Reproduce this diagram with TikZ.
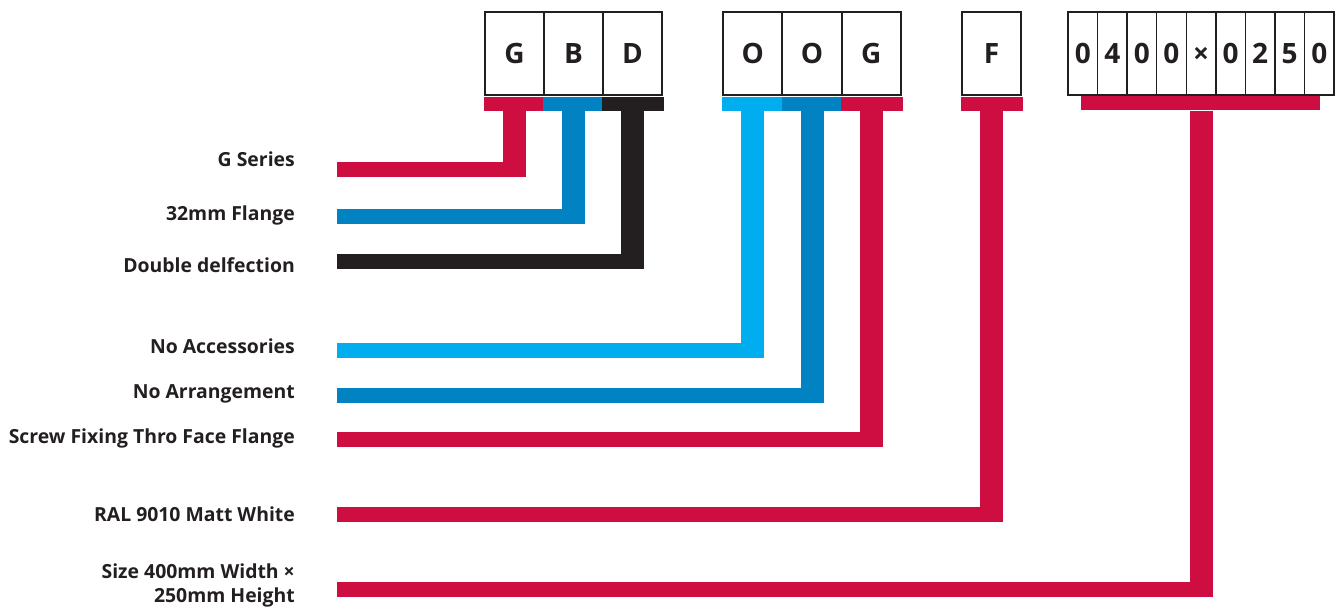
\documentclass[tikz,border=0pt]{standalone}
\usepackage{fontspec}
\setmainfont{Open Sans}
\usetikzlibrary{calc}
\definecolor{codered}{RGB}{206,14,64}
\definecolor{codeblue}{RGB}{0,130,195}
\definecolor{codesky}{RGB}{0,174,239}
\definecolor{codeblack}{RGB}{35,31,32}
\tikzset{
  cell/.style={draw=codeblack, line width=1.5pt, minimum height=83pt, inner sep=0pt,
    text height=20pt, text depth=0pt, text=codeblack,
    font=\fontsize{28}{28}\selectfont\bfseries},
  widecell/.style={cell, minimum width=59pt},
  thincell/.style={cell, minimum width=29.56pt},
  codetext/.style={anchor=base east, inner sep=0pt, text=codeblack,
    font=\fontsize{19.4}{24}\selectfont\bfseries}
}
% bar under a cell, stem down from it, leader across to the start point
\newcommand\codebar[2]{%
  \fill[#2] ($(#1.south west)+(0,1)$) rectangle ($(#1.south east)+(1.5,15)$);}
\newcommand\leadline[3]{%
  \fill[#3] ($(#1.south)+(-11.5,15)$) rectangle ($(#1.south |- #2)+(11.5,7.5)$);
  \fill[#3] ($(#2)+(0,-7.5)$) rectangle ($(#1.south |- #2)+(11.5,7.5)$);}
\begin{document}
\begin{tikzpicture}[x=1pt,y=-1pt]
  \useasboundingbox (0,0) rectangle (1343,607);

  % code cells
  \node[widecell] (cG) at (514.5,53.5) {G};
  \node[widecell] (cB) at (573.5,53.5) {B};
  \node[widecell] (cD) at (632.5,53.5) {D};
  \node[widecell] (cO1) at (752.7,53.5) {O};
  \node[widecell] (cO2) at (812,53.5) {O};
  \node[widecell] (cG2) at (871.3,53.5) {G};
  \node[widecell] (cF) at (991.5,53.5) {F};
  \foreach \ch [count=\i from 0] in {0,4,0,0,×,0,2,5,0}
    \node[thincell] (s\i) at (1082.78+\i*29.56,53.5) {\ch};

  % texts
  \node[codetext] (tSeries) at (295,166) {G Series};
  \node[codetext] (tFlange) at (295,220) {32mm Flange};
  \node[codetext] (tDefl) at (295,272) {Double delfection};
  \node[codetext] (tAcc) at (295,353) {No Accessories};
  \node[codetext] (tArr) at (295,398) {No Arrangement};
  \node[codetext] (tFix) at (295,443) {Screw Fixing Thro Face Flange};
  \node[codetext] (tRal) at (295,521) {RAL 9010 Matt White};
  \node[codetext, anchor=north east, align=right] (tSize) at (295,564)
    {Size 400mm Width ×\\250mm Height};

  \coordinate (pSeries) at (337,169.5);
  \coordinate (pFlange) at (337,216.5);
  \coordinate (pDefl) at (337,261.5);
  \coordinate (pAcc) at (337,350.5);
  \coordinate (pArr) at (337,395.5);
  \coordinate (pFix) at (337,439.5);
  \coordinate (pRal) at (337,514.5);
  \coordinate (pSize) at (337,589.5);

  \codebar{cG}{codered}
  \codebar{cB}{codeblue}
  \codebar{cD}{codeblack}
  \codebar{cO1}{codesky}
  \codebar{cO2}{codeblue}
  \codebar{cG2}{codered}
  \codebar{cF}{codered}
  \fill[codered] (1081,96) rectangle (1320,110);

  \leadline{cG}{pSeries}{codered}
  \leadline{cB}{pFlange}{codeblue}
  \leadline{cD}{pDefl}{codeblack}
  \leadline{cO1}{pAcc}{codesky}
  \leadline{cO2}{pArr}{codeblue}
  \leadline{cG2}{pFix}{codered}
  \leadline{cF}{pRal}{codered}
  \leadline{s4}{pSize}{codered}
\end{tikzpicture}
\end{document}
